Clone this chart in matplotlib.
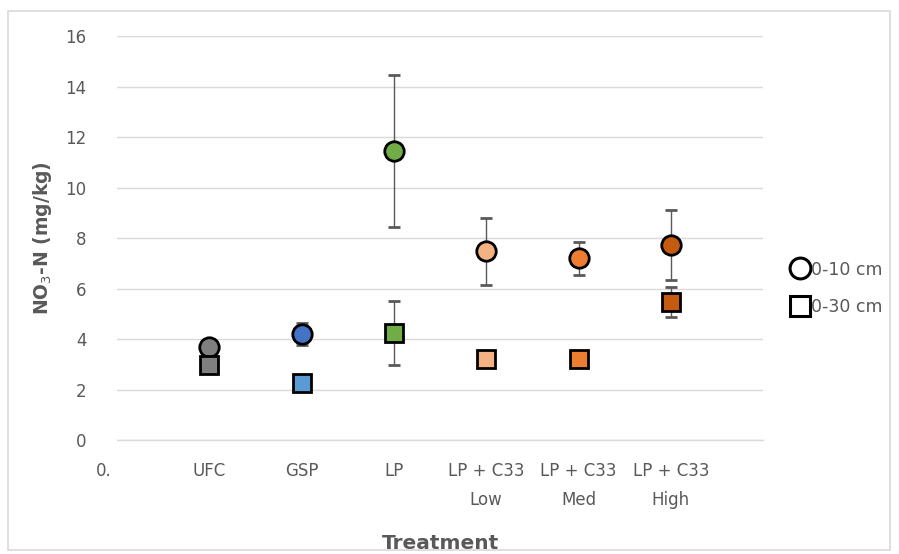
import matplotlib.pyplot as plt
import numpy as np
from matplotlib.lines import Line2D
from matplotlib.patches import Rectangle
from matplotlib.transforms import ScaledTranslation

# treatments at x = 1..6, x = 0 carries the stray "0." label
treatments = ["UFC", "GSP", "LP", "LP + C33\nLow", "LP + C33\nMed", "LP + C33\nHigh"]
tick_labels = ["0."] + treatments
x_pos = np.arange(1, 7)

# NO3-N (mg/kg), mean and error
no3_0_10 = [3.68, 4.20, 11.45, 7.48, 7.20, 7.72]
err_0_10 = [0.10, 0.45, 3.00, 1.33, 0.65, 1.38]
no3_0_30 = [2.97, 2.26, 4.24, 3.22, 3.22, 5.47]
err_0_30 = [0.10, 0.10, 1.28, 0.30, 0.30, 0.58]

colors_0_10 = ['#7f7f7f', '#4472c4', '#70ad47', '#f4b183', '#ed7d31', '#c55a11']
colors_0_30 = ['#7f7f7f', '#5b9bd5', '#70ad47', '#f4b183', '#ed7d31', '#c55a11']

fig = plt.figure(figsize=(8.99, 5.54), dpi=100)
ax = fig.add_axes([0.130, 0.2058, 0.719, 0.729])

fig.patches.append(Rectangle((8/899, 4/554), 882/899, 539/554, transform=fig.transFigure,
                             fill=False, edgecolor='#d9d9d9', linewidth=1.2))

txt = '#595959'

# circles first, squares on top
for i in range(6):
    ax.errorbar(x_pos[i], no3_0_10[i], yerr=err_0_10[i], fmt='o', color='#595959',
                ecolor='#595959', elinewidth=1, capsize=4, capthick=1,
                markersize=14, markerfacecolor=colors_0_10[i], markeredgecolor='black',
                markeredgewidth=2, zorder=3)
for i in range(6):
    ax.errorbar(x_pos[i], no3_0_30[i], yerr=err_0_30[i], fmt='s', color='#595959',
                ecolor='#595959', elinewidth=1, capsize=4, capthick=1,
                markersize=13.5, markerfacecolor=colors_0_30[i], markeredgecolor='black',
                markeredgewidth=2, zorder=4)

ax.set_xlim(0, 7)
ax.set_ylim(0, 16)
ax.set_yticks(np.arange(0, 17, 2))
ax.set_xticks(np.arange(0, 7))
ax.set_xticklabels(tick_labels, fontsize=12, color=txt, linespacing=1.75, va='top')
ax.tick_params(axis='y', labelsize=12, labelcolor=txt, length=0, pad=22)
ax.tick_params(axis='x', length=0, pad=16)
ax.xaxis.get_ticklabels()[0].set_transform(
    ax.xaxis.get_ticklabels()[0].get_transform() + ScaledTranslation(-0.13, 0, fig.dpi_scale_trans))
ax.grid(axis='y', color='#d9d9d9', linewidth=1)
ax.axhline(0, color='#d9d9d9', linewidth=1, zorder=0, clip_on=False)
ax.set_axisbelow(True)
for s in ax.spines.values():
    s.set_visible(False)

ax.set_ylabel("NO$_3$-N (mg/kg)", fontsize=13.5, fontweight='bold', color=txt, labelpad=8)
ax.set_xlabel("Treatment", fontsize=14.5, fontweight='bold', color=txt, labelpad=18)

handles = [Line2D([], [], marker='o', linestyle='none', markersize=15, markerfacecolor='white',
                  markeredgecolor='black', markeredgewidth=2.2),
           Line2D([], [], marker='s', linestyle='none', markersize=14, markerfacecolor='white',
                  markeredgecolor='black', markeredgewidth=2.2)]
leg = fig.legend(handles, ["0-10 cm", "0-30 cm"], loc='center left', bbox_to_anchor=(0.86, 0.48),
                 frameon=False, fontsize=12.5, handletextpad=0.0, labelspacing=1.1,
                 handlelength=1.3)
for t in leg.get_texts():
    t.set_color(txt)

plt.savefig("out.png", dpi=100)
